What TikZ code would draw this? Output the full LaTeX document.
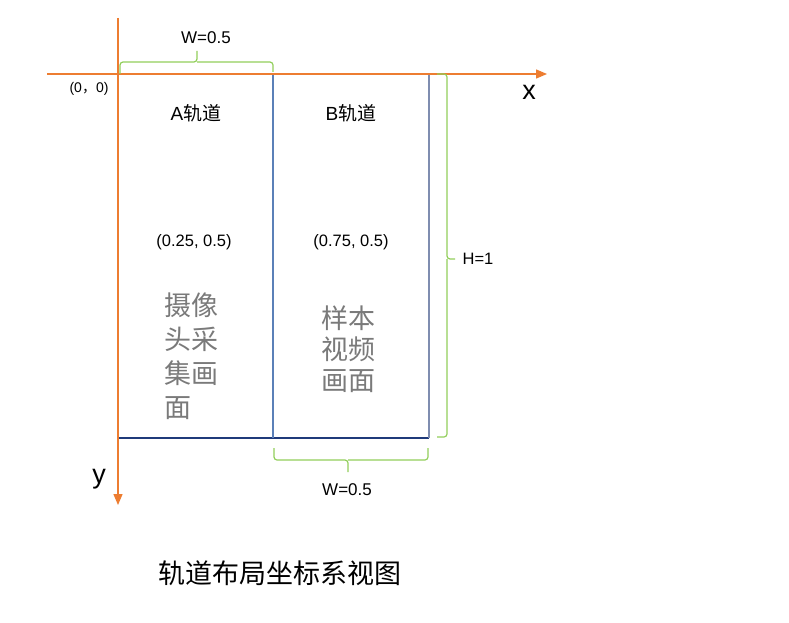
\documentclass[tikz,border=0pt]{standalone}
\usepackage{fontspec}
\setmainfont{Liberation Sans}
\newfontfamily\cjk{Noto Sans CJK SC}
\usetikzlibrary{arrows.meta}
\definecolor{axisorange}{HTML}{ED7D31}
\definecolor{bracegreen}{HTML}{92CF5C}
\definecolor{midblue}{HTML}{5B80B8}
\definecolor{rightblue}{HTML}{7F8DB0}
\definecolor{navy}{HTML}{1F3A7A}
\definecolor{textgray}{HTML}{7A7A7A}
\tikzset{
  axisline/.style={draw=axisorange, line width=1.3pt, -{Triangle[length=11pt,width=9pt]}},
  bracepath/.style={draw=bracegreen, line width=1.2pt, rounded corners=3pt},
  lbl/.style={inner sep=0pt, font=\fontsize{16.5}{19}\selectfont},
  cjklbl/.style={inner sep=0pt, font=\fontsize{19}{23}\selectfont},
  graytxt/.style={inner sep=0pt, text=textgray, align=left},
}
\begin{document}
\begin{tikzpicture}[x=1pt,y=-1pt]
\useasboundingbox[fill=white] (0,0) rectangle (789,623);
% coordinates
\coordinate (O) at (118,74);
\coordinate (yst) at (118,18);
\coordinate (yend) at (118,505);
\coordinate (xst) at (47,74);
\coordinate (xend) at (547,74);
\coordinate (mt) at (273,74);
\coordinate (mb) at (273,438);
\coordinate (rt) at (429,74);
\coordinate (rb) at (429,438);
\coordinate (lb) at (118,438);
% rectangle lines
\draw[navy, line width=1.3pt] (lb) -- (rb);
\draw[midblue, line width=1.2pt] (mt) -- (mb);
\draw[rightblue, line width=1.3pt] (rt) -- (rb);
% axes
\draw[axisline] (yst) -- (yend);
\draw[axisline] (xst) -- (xend);
% braces
\coordinate (tb1) at (120,74);
\coordinate (tbm) at (197,62);
\coordinate (tbtip) at (197,51);
\coordinate (tb2) at (273,72);
\draw[bracepath] (tb1) |- (tbm) -- (tbtip);
\draw[bracepath] (tbm) -| (tb2);
\coordinate (rb1) at (437,74);
\coordinate (rbm) at (447,259);
\coordinate (rbtip) at (455,259);
\coordinate (rb2) at (437,437);
\draw[bracepath] (rb1) -| (rbm) -- (rbtip);
\draw[bracepath] (rbm) |- (rb2);
\coordinate (bb1) at (274,448);
\coordinate (bbm) at (348,460);
\coordinate (bbtip) at (348,472);
\coordinate (bb2) at (428,448);
\draw[bracepath] (bb1) |- (bbm) -- (bbtip);
\draw[bracepath] (bbm) -| (bb2);
% labels
\node[lbl, font=\fontsize{17}{19}\selectfont] (wtop) at (206,38) {W=0.5};
\node[inner sep=0pt, font=\fontsize{14}{17}\selectfont] (orig) at (89,89) {(0{\cjk ，}0)};
\node[inner sep=0pt, anchor=base, font=\fontsize{27}{30}\selectfont] (xl) at (529,100) {x};
\node[inner sep=0pt, anchor=base, font=\fontsize{27}{30}\selectfont] (yl) at (99,483) {y};
\node[cjklbl] (ta) at (196,113) {A{\cjk 轨道}};
\node[cjklbl] (tb) at (351,113) {B{\cjk 轨道}};
\node[lbl] (ca) at (194,242) {(0.25, 0.5)};
\node[lbl] (cb) at (351,242) {(0.75, 0.5)};
\node[lbl] (hl) at (478,259) {H=1};
\node[lbl, font=\fontsize{17}{19}\selectfont] (wbot) at (347,490) {W=0.5};
\node[graytxt, anchor=west, font=\fontsize{27}{34}\cjk] (ga) at (164,356) {摄像\\头采\\集画\\面};
\node[graytxt, anchor=center, font=\fontsize{27}{31}\cjk] (gb) at (348,349) {样本\\视频\\画面};
\node[inner sep=0pt, font=\fontsize{27}{30}\cjk] (cap) at (280,573) {轨道布局坐标系视图};
\end{tikzpicture}
\end{document}
